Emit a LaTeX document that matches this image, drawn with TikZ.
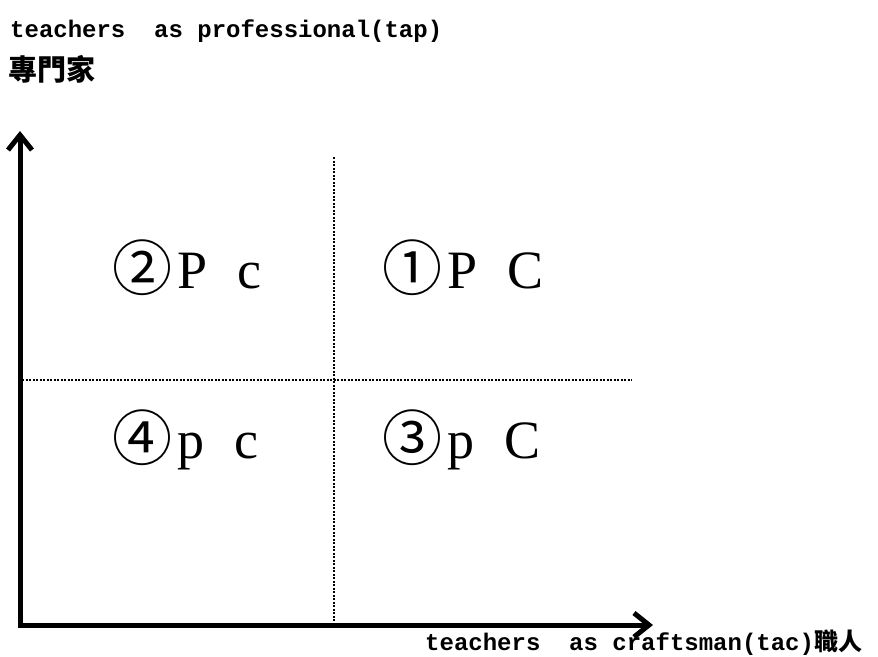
\documentclass[tikz,border=0pt]{standalone}
\usepackage{fontspec}
\setmainfont{Liberation Serif}
\setmonofont{Liberation Mono}
\newfontfamily\cjkfont{Noto Sans CJK TC}
\usetikzlibrary{arrows.meta}
\newcommand{\qnum}[1]{{\cjkfont\fontsize{60}{60}\selectfont\raisebox{-2pt}{#1}}\hspace{5pt}}
\tikzset{
  axis/.style={line width=5pt,line join=miter,
    {Straight Barb[length=15pt,width=24pt]}-{Straight Barb[length=15pt,width=24pt]}},
  grid line/.style={line width=2pt,dash pattern=on 2pt off 1.5pt},
  axis label/.style={inner sep=0pt,anchor=base west,font=\fontsize{24}{28}\selectfont\ttfamily\bfseries},
  quad label/.style={inner sep=0pt,anchor=base west,font=\fontsize{54}{60}\selectfont}
}
\begin{document}
\begin{tikzpicture}[x=1pt,y=-1pt]
  \useasboundingbox (0,0) rectangle (878,656);
  \coordinate (o) at (20,625);
  \coordinate (ytip) at (20,131);
  \coordinate (xtip) at (653,625);
  \coordinate (vtop) at (334,157);
  \coordinate (vbot) at (334,625);
  \coordinate (hl) at (22,380);
  \coordinate (hr) at (632,380);
  \draw[grid line] (vtop)--(vbot);
  \draw[grid line] (hl)--(hr);
  \draw[axis] (ytip)--(o)--(xtip);
  \node[axis label] (ylab) at (10,37) {teachers~~as professional(tap)};
  \node[axis label] (ycjk) at (8,80) {\cjkfont\fontsize{29}{32}\selectfont 專門家};
  \node[axis label] (xlab) at (425,650) {teachers~~as craftsman(tac){\cjkfont 職人}};
  \node[quad label] (q2) at (112,288) {\qnum{②}P\hspace{30pt}c};
  \node[quad label] (q1) at (382,288) {\qnum{①}P\hspace{30pt}C};
  \node[quad label] (q4) at (112,458) {\qnum{④}p\hspace{30pt}c};
  \node[quad label] (q3) at (382,458) {\qnum{③}p\hspace{30pt}C};
\end{tikzpicture}
\end{document}
